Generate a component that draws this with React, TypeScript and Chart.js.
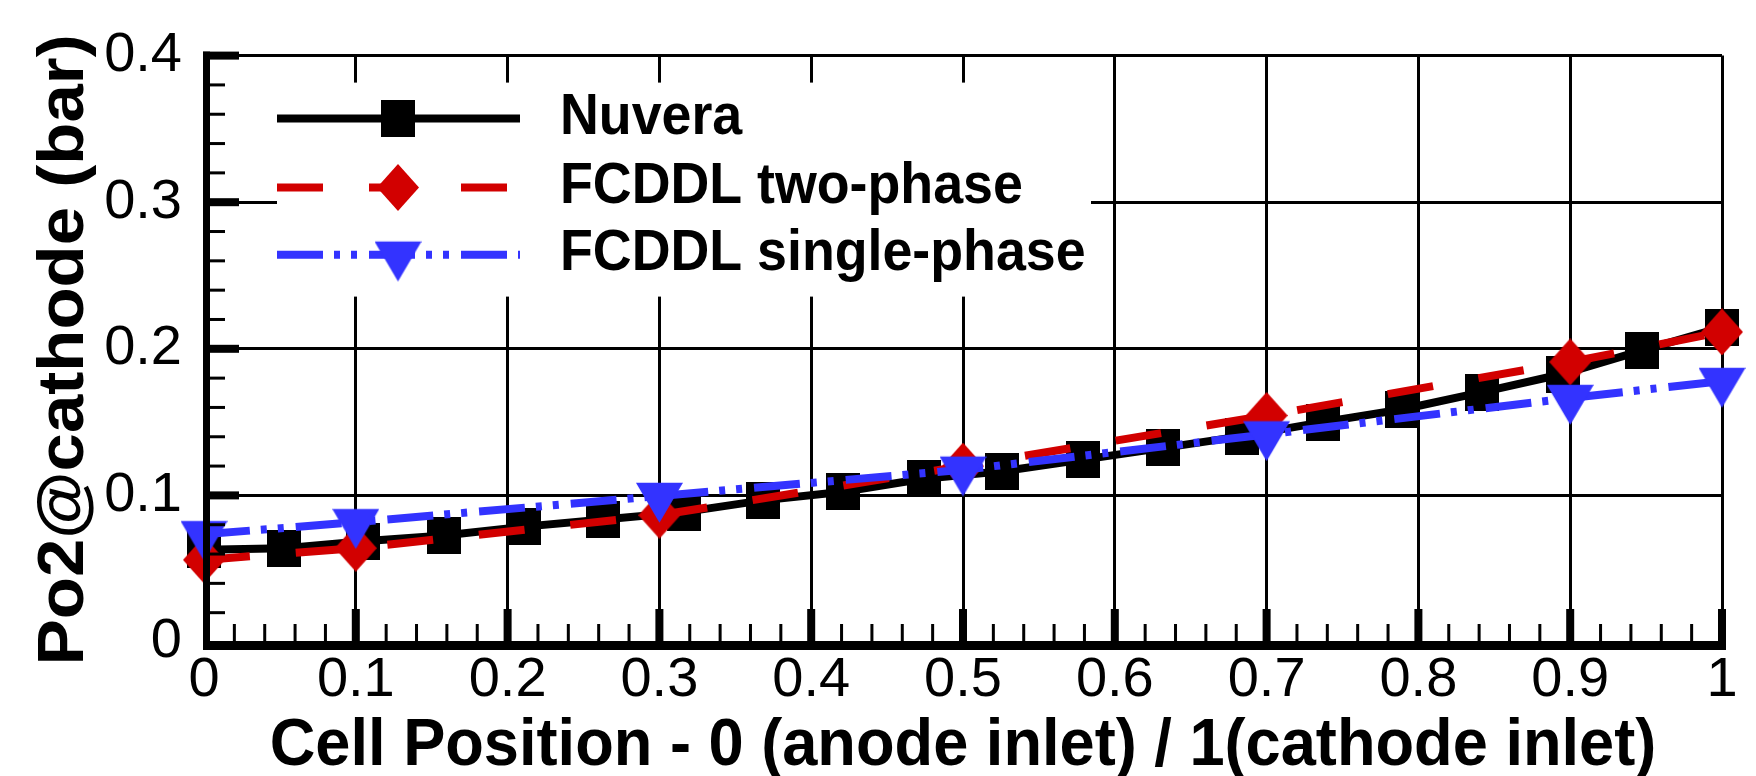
import { useEffect, useRef } from 'react';
import { Chart, registerables } from 'chart.js';

Chart.register(...registerables);

// Cell position along the channel: 0 = anode inlet, 1 = cathode inlet
const NUVERA_X = [0, 0.053, 0.105, 0.158, 0.211, 0.263, 0.316, 0.368, 0.421, 0.474, 0.526, 0.579, 0.632, 0.684, 0.737, 0.789, 0.842, 0.895, 0.947, 1];
// Oxygen partial pressure at the cathode (bar)
const NUVERA_PO2 = [0.063, 0.064, 0.0687, 0.0727, 0.0787, 0.0836, 0.0886, 0.0966, 0.1025, 0.1113, 0.1165, 0.1244, 0.1324, 0.1404, 0.150, 0.1586, 0.1705, 0.1828, 0.1987, 0.2147];

const FCDDL_X = [0, 0.1, 0.3, 0.5, 0.7, 0.9, 1];
const TWO_PHASE_PO2 = [0.056, 0.064, 0.0865, 0.12, 0.1545, 0.191, 0.2115];
const SINGLE_PHASE_PO2 = [0.0735, 0.0817, 0.0996, 0.1175, 0.1416, 0.1664, 0.178];

const SERIES_NAMES = ['Nuvera', 'FCDDL two-phase', 'FCDDL single-phase'];

const X_TICKS = [0, 0.1, 0.2, 0.3, 0.4, 0.5, 0.6, 0.7, 0.8, 0.9, 1];
const X_TICK_LABELS = ['0', '0.1', '0.2', '0.3', '0.4', '0.5', '0.6', '0.7', '0.8', '0.9', '1'];
const Y_TICKS = [0, 0.1, 0.2, 0.3, 0.4];
const Y_TICK_LABELS = ['0', '0.1', '0.2', '0.3', '0.4'];

const X_TITLE = 'Cell Position - 0 (anode inlet) / 1(cathode inlet)';
const Y_TITLE = 'Po2@cathode (bar)';

const BLACK = '#000000';
const RED = '#D20000';
const BLUE = '#3333FF';
const FONT = '"Liberation Sans", Arial, Helvetica, sans-serif';
const SQUEEZE = 0.943; // horizontal text condensation

const RED_DASH = [46, 46];
const BLUE_DASH = [46, 11, 6, 11, 6, 12];

function makeMarker(w: number, h: number, paint: (g: CanvasRenderingContext2D) => void) {
  const c = document.createElement('canvas');
  c.width = w;
  c.height = h;
  const g = c.getContext('2d')!;
  paint(g);
  return c;
}

function buildMarkers() {
  const square = makeMarker(34, 37, (g) => {
    g.fillStyle = BLACK;
    g.fillRect(0, 0, 34, 37);
  });
  const diamond = makeMarker(42, 47, (g) => {
    g.fillStyle = RED;
    g.beginPath();
    g.moveTo(21, 0);
    g.lineTo(42, 23.5);
    g.lineTo(21, 47);
    g.lineTo(0, 23.5);
    g.closePath();
    g.fill();
  });
  // downward triangle whose centroid sits at the canvas centre
  const triangle = makeMarker(47, 54, (g) => {
    const H = 40;
    const top = 27 - H / 3;
    g.fillStyle = BLUE;
    g.beginPath();
    g.moveTo(0, top);
    g.lineTo(47, top);
    g.lineTo(23.5, top + H);
    g.closePath();
    g.fill();
  });
  return { square, diamond, triangle };
}

function squeezedText(ctx: CanvasRenderingContext2D, text: string, x: number, y: number, align: CanvasTextAlign) {
  ctx.save();
  ctx.translate(x, y);
  ctx.scale(SQUEEZE, 1);
  ctx.textAlign = align;
  ctx.textBaseline = 'alphabetic';
  ctx.fillText(text, 0, 0);
  ctx.restore();
}

export default function App() {
  const canvasRef = useRef<HTMLCanvasElement | null>(null);

  useEffect(() => {
    document.body.style.margin = '0';
    document.body.style.overflow = 'hidden';
    const canvas = canvasRef.current;
    if (!canvas) return;
    const { square, diamond, triangle } = buildMarkers();

    const legendRows = [
      { name: SERIES_NAMES[0], color: BLACK, dash: [] as number[], marker: square, lineY: 118.5, textY: 134.3 },
      { name: SERIES_NAMES[1], color: RED, dash: RED_DASH, marker: diamond, lineY: 187.5, textY: 203.3 },
      { name: SERIES_NAMES[2], color: BLUE, dash: BLUE_DASH, marker: triangle, lineY: 254.7, textY: 270 },
    ];

    const decorations = {
      id: 'decorations',
      beforeDatasetsDraw(chart: any) {
        const { ctx, chartArea } = chart;
        // legend backdrop hides the grid behind it
        ctx.save();
        ctx.fillStyle = '#ffffff';
        ctx.fillRect(chartArea.left + 73, chartArea.top + 27, 814, 214);
        ctx.restore();
      },
      afterDatasetsDraw(chart: any) {
        const { ctx, chartArea } = chart;
        const xs = chart.scales.x;
        const ys = chart.scales.y;
        const xL = xs.getPixelForValue(0) - 1;
        const yB = ys.getPixelForValue(0) + 1;
        ctx.save();
        ctx.fillStyle = BLACK;
        // axis lines
        ctx.fillRect(xL, chartArea.top - 4, 7, yB + 7 - (chartArea.top - 4));
        ctx.fillRect(xL, yB, xs.getPixelForValue(1) + 4 - xL, 7);
        // inward tick marks, major every 0.1 and minor every 0.02
        for (let k = 1; k <= 20; k++) {
          const v = k * 0.02;
          const py = ys.getPixelForValue(v);
          if (k % 5 === 0) ctx.fillRect(xL, py - 4, 36, 8);
          else ctx.fillRect(xL, py - 1.5, 22, 3);
        }
        for (let k = 1; k <= 50; k++) {
          const v = k * 0.02;
          const px = xs.getPixelForValue(v);
          if (k % 5 === 0) ctx.fillRect(px - 4, yB - 34, 8, 34);
          else ctx.fillRect(px - 1.5, yB - 19, 3, 19);
        }

        // legend
        const lx0 = chartArea.left + 73;
        const lx1 = chartArea.left + 316;
        const mx = chartArea.left + 194;
        ctx.lineCap = 'butt';
        for (const r of legendRows) {
          ctx.strokeStyle = r.color;
          ctx.lineWidth = 8;
          ctx.setLineDash(r.dash);
          ctx.lineDashOffset = 0;
          ctx.beginPath();
          ctx.moveTo(lx0, r.lineY);
          ctx.lineTo(lx1, r.lineY);
          ctx.stroke();
          ctx.setLineDash([]);
          ctx.drawImage(r.marker, mx - r.marker.width / 2, r.lineY - r.marker.height / 2);
          ctx.fillStyle = BLACK;
          ctx.font = `bold 57px ${FONT}`;
          squeezedText(ctx, r.name, chartArea.left + 356, r.textY, 'left');
        }

        // axis titles
        ctx.fillStyle = BLACK;
        ctx.font = `bold 67px ${FONT}`;
        squeezedText(ctx, X_TITLE, (chartArea.left + chartArea.right) / 2, 765, 'center');

        ctx.save();
        ctx.font = `bold 69px ${FONT}`;
        ctx.translate(83, (chartArea.top + chartArea.bottom) / 2 + 1);
        ctx.scale(SQUEEZE, 1);
        ctx.rotate(-Math.PI / 2);
        ctx.textAlign = 'center';
        ctx.textBaseline = 'alphabetic';
        ctx.fillText(Y_TITLE, 0, 0);
        ctx.restore();

        ctx.restore();
      },
    };

    const tickFont = { family: FONT, size: 56, weight: 'normal' as const };

    const chart = new Chart(canvas, {
      type: 'line',
      data: {
        datasets: [
          {
            label: SERIES_NAMES[0],
            data: NUVERA_X.map((x, i) => ({ x, y: NUVERA_PO2[i] })),
            borderColor: BLACK,
            borderWidth: 8,
            borderCapStyle: 'butt',
            pointStyle: square,
            pointRadius: 20,
            order: 3,
            clip: false,
            tension: 0,
          },
          {
            label: SERIES_NAMES[1],
            data: FCDDL_X.map((x, i) => ({ x, y: TWO_PHASE_PO2[i] })),
            borderColor: RED,
            borderWidth: 8,
            borderDash: RED_DASH,
            borderCapStyle: 'butt',
            pointStyle: diamond,
            pointRadius: 20,
            order: 2,
            clip: false,
            tension: 0,
          },
          {
            label: SERIES_NAMES[2],
            data: FCDDL_X.map((x, i) => ({ x, y: SINGLE_PHASE_PO2[i] })),
            borderColor: BLUE,
            borderWidth: 8,
            borderDash: BLUE_DASH,
            borderCapStyle: 'butt',
            pointStyle: triangle,
            pointRadius: 20,
            order: 1,
            clip: false,
            tension: 0,
          },
        ],
      },
      options: {
        responsive: false,
        animation: false,
        devicePixelRatio: 1,
        events: [],
        layout: { padding: { top: 39, right: 34, left: 0, bottom: 0 } },
        plugins: {
          legend: { display: false },
          tooltip: { enabled: false },
          title: { display: false },
        },
        scales: {
          x: {
            type: 'linear',
            min: 0,
            max: 1,
            afterBuildTicks: (s: any) => {
              s.ticks = X_TICKS.map((v) => ({ value: v }));
            },
            afterFit: (s: any) => {
              s.height = 134;
            },
            grid: { color: BLACK, lineWidth: 3, drawTicks: false },
            border: { display: false },
            ticks: {
              autoSkip: false,
              maxRotation: 0,
              minRotation: 0,
              padding: 5,
              color: BLACK,
              font: tickFont,
              callback: (_v: any, i: number) => X_TICK_LABELS[i],
            },
          },
          y: {
            type: 'linear',
            min: 0,
            max: 0.4,
            afterBuildTicks: (s: any) => {
              s.ticks = Y_TICKS.map((v) => ({ value: v }));
            },
            afterFit: (s: any) => {
              s.width = 204;
            },
            grid: { color: BLACK, lineWidth: 3, drawTicks: false },
            border: { display: false },
            ticks: {
              autoSkip: false,
              padding: 22,
              color: BLACK,
              font: tickFont,
              callback: (_v: any, i: number) => Y_TICK_LABELS[i],
            },
          },
        },
      },
      plugins: [decorations],
    } as any);

    return () => chart.destroy();
  }, []);

  return (
    <canvas
      ref={canvasRef}
      width={1756}
      height={776}
      style={{ display: 'block', width: '1756px', height: '776px', background: '#ffffff' }}
    />
  );
}
